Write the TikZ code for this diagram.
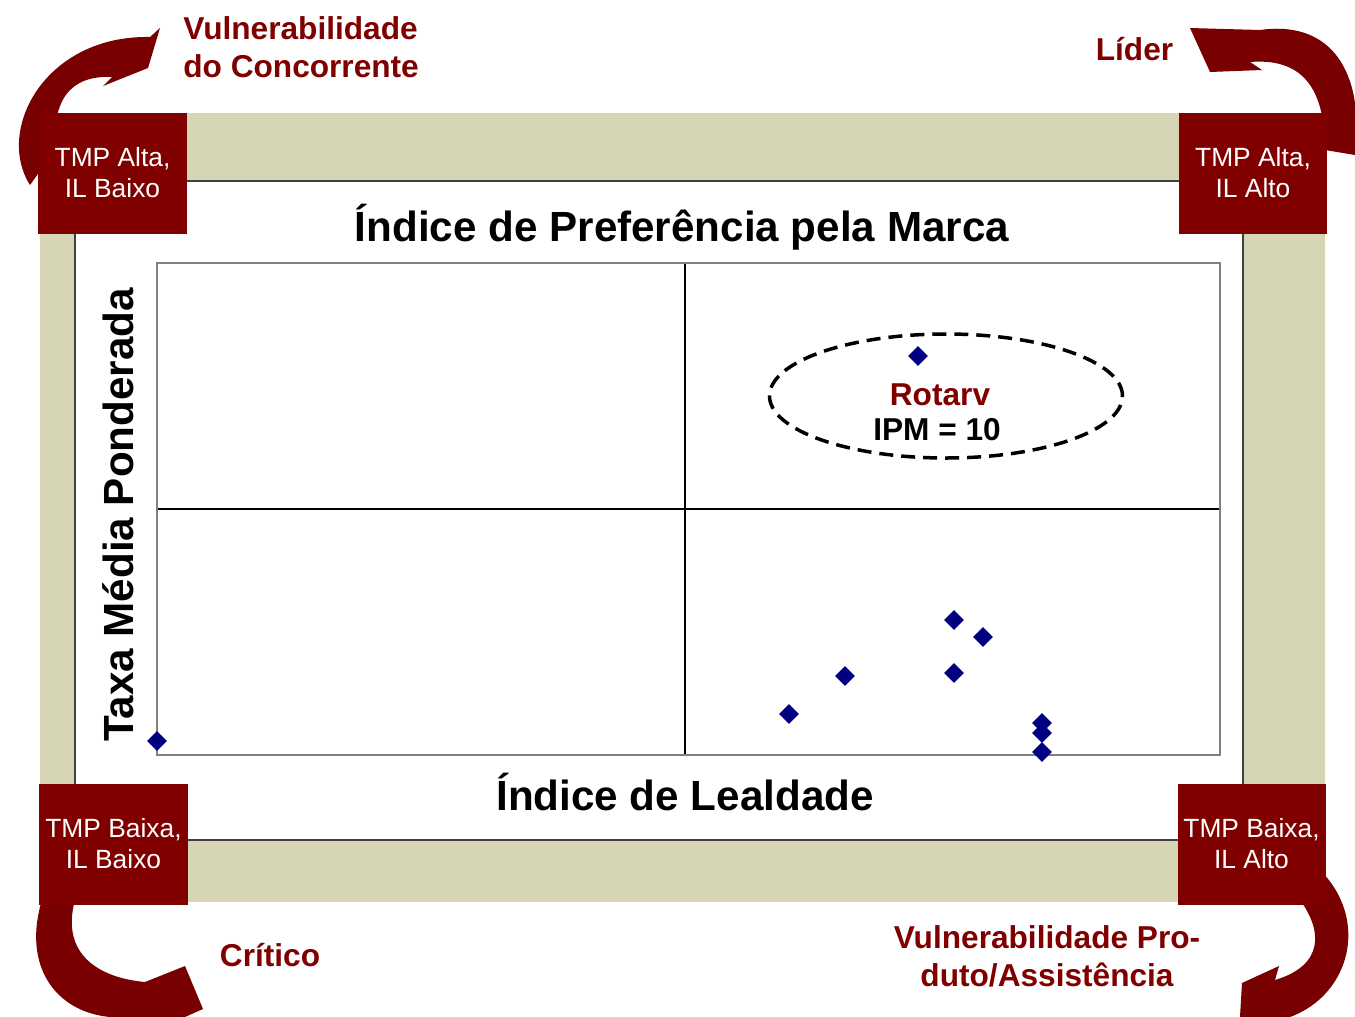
\documentclass[tikz,border=0pt]{standalone}
\usepackage{fontspec}
\setmainfont{Liberation Sans}
\usetikzlibrary{shapes.geometric}
\definecolor{boxred}{RGB}{128,0,0}
\definecolor{arrowred}{RGB}{120,0,0}
\definecolor{framebeige}{RGB}{214,214,182}
\definecolor{pointblue}{RGB}{0,0,128}
\tikzset{quadbox/.style = {rectangle, fill=boxred, text=white, align=center,
  inner sep=0pt, minimum width=29.6mm, minimum height=24.2mm,
  font=\fontsize{15}{17.6}\selectfont}}
\tikzset{zonelabel/.style = {text=boxred, inner sep=0pt,
  font=\bfseries\fontsize{18}{21.5}\selectfont}}
\tikzset{axislabel/.style = {inner sep=0pt,
  font=\bfseries\fontsize{24}{29}\selectfont}}
\tikzset{point/.style = {diamond, fill=pointblue, inner sep=0pt,
  minimum size=4mm}}
\tikzset{ring/.style = {ellipse, draw, line width=0.7mm,
  dash pattern=on 2.8mm off 1.6mm, minimum width=70.6mm, minimum height=24.8mm}}
\tikzset{bigarrow/.style = {fill=arrowred}}

\begin{document}
\begin{tikzpicture}[x=0.2mm, y=-0.2mm]
  \useasboundingbox (0,0) rectangle (1355,1017);
  \fill[white] (0,0) rectangle (1355,1017);
  \fill[bigarrow] (30,185) .. controls (-5,130) and (45,35) .. (150,37)
    -- (160,28) -- (148,68) -- (103,86) -- (112,77)
    .. controls (70,75) and (52,100) .. (55,150) -- cycle;
  \fill[bigarrow] (1355,155) .. controls (1365,70) and (1330,20) .. (1260,30)
    -- (1190,28) -- (1210,72) -- (1262,70) -- (1250,62)
    .. controls (1300,58) and (1325,85) .. (1325,150) -- cycle;
  \fill[bigarrow] (42,900) .. controls (22,965) and (55,1012) .. (110,1017)
    -- (185,1017) -- (203,1009) -- (185,966) -- (145,982)
    .. controls (100,978) and (60,955) .. (75,900) -- cycle;
  \fill[bigarrow] (1300,900) .. controls (1322,930) and (1325,965) .. (1275,980)
    -- (1279,966) -- (1242,983) -- (1240,1017) -- (1290,1017)
    .. controls (1350,995) and (1370,920) .. (1320,870) -- cycle;
  \fill[framebeige] (40,113) rectangle (1325,902);
  \draw[fill=white, line width=0.4mm, draw=black!75] (75,181) rectangle (1243,840);
  \coordinate (nw) at (157,263);
  \coordinate (se) at (1220,755);
  \coordinate (midtop) at (685,263);
  \coordinate (midbot) at (685,755);
  \coordinate (midleft) at (157,509);
  \coordinate (midright) at (1220,509);
  \draw[line width=0.4mm] (midtop) -- (midbot);
  \draw[line width=0.4mm] (midleft) -- (midright);
  \draw[gray, line width=0.5mm] (nw) rectangle (se);
  \node[ring] (rotarvring) at (946,396) {};
  \node[point] (p1) at (918,356) {};
  \node[point] (p2) at (157,741) {};
  \node[point] (p3) at (789,714) {};
  \node[point] (p4) at (845,676) {};
  \node[point] (p5) at (954,620) {};
  \node[point] (p6) at (983,637) {};
  \node[point] (p7) at (954,673) {};
  \node[point] (p8) at (1042,723) {};
  \node[point] (p9) at (1042,733) {};
  \node[point] (p10) at (1042,752) {};
  \node[zonelabel, anchor=base] (rotarv) at (940,405) {Rotarv};
  \node[zonelabel, text=black, anchor=base] (ipm) at (937,440) {IPM = 10};
  \node[axislabel, anchor=base] (title) at (682,241) {Índice de Preferência pela Marca};
  \node[axislabel, anchor=base] (xlabel) at (685,810) {Índice de Lealdade};
  \node[axislabel, anchor=base, rotate=90] (ylabel) at (133,515) {Taxa Média Ponderada};
  \node[quadbox] (tl) at (112.5,173) {TMP Alta,\\IL Baixo};
  \node[quadbox] (tr) at (1253,173) {TMP Alta,\\IL Alto};
  \node[quadbox] (bl) at (113.5,844) {TMP Baixa,\\IL Baixo};
  \node[quadbox] (br) at (1251.5,844) {TMP Baixa,\\IL Alto};
  \node[zonelabel, align=left, anchor=west] (rival) at (183,47.5) {Vulnerabilidade\\do Concorrente};
  \node[zonelabel, anchor=base] (leader) at (1134.5,60) {Líder};
  \node[zonelabel, anchor=base] (critical) at (270,966) {Crítico};
  \node[zonelabel, align=center] (product) at (1047,956) {Vulnerabilidade Pro-\\duto/Assistência};
\end{tikzpicture}
\end{document}
